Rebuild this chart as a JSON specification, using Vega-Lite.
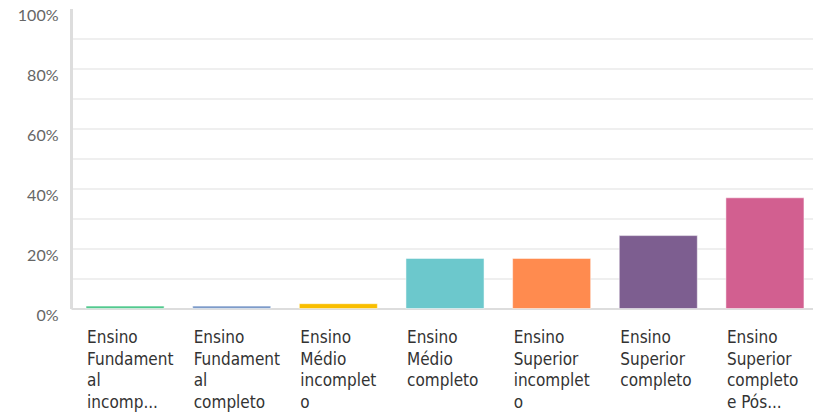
{
  "$schema": "https://vega.github.io/schema/vega-lite/v6.json",
  "width": 748,
  "height": 300,
  "autosize": {"type": "none"},
  "padding": {"left": 71, "top": 8.5, "right": 0, "bottom": 103.5},
  "background": "white",
  "data": {
    "values": [
      {"label": "Ensino|Fundament|al|incomp...", "pct": 0.008, "color": "#52C98E"},
      {"label": "Ensino|Fundament|al|completo", "pct": 0.008, "color": "#7D9BC9"},
      {"label": "Ensino|Médio|incomplet|o", "pct": 0.016, "color": "#F9BE00"},
      {"label": "Ensino|Médio|completo", "pct": 0.167, "color": "#6CC8CC"},
      {"label": "Ensino|Superior|incomplet|o", "pct": 0.167, "color": "#FF8B4F"},
      {"label": "Ensino|Superior|completo", "pct": 0.243, "color": "#7D5E90"},
      {"label": "Ensino|Superior|completo|e Pós...", "pct": 0.369, "color": "#D25F90"}
    ]
  },
  "config": {
    "view": {"stroke": null},
    "axis": {"ticks": false}
  },
  "mark": {"type": "bar", "stroke": "white", "strokeOpacity": 0.5, "strokeWidth": 1},
  "encoding": {
    "x": {
      "field": "label",
      "type": "nominal",
      "sort": null,
      "scale": {"paddingInner": 0.268, "paddingOuter": 0.141},
      "axis": {
        "title": null,
        "labelAngle": 0,
        "labelAlign": "left",
        "labelBaseline": "top",
        "labelOffset": -38,
        "labelExpr": "split(datum.value, '|')",
        "labelFont": "DejaVu Sans Condensed",
        "labelFontSize": 17,
        "labelLineHeight": 21.5,
        "labelColor": "#333333",
        "labelPadding": 21,
        "labelLimit": 200,
        "domainColor": "#dddddd",
        "domainWidth": 2,
        "grid": false
      }
    },
    "y": {
      "field": "pct",
      "type": "quantitative",
      "scale": {"domain": [0, 1], "nice": false},
      "axis": {
        "title": null,
        "values": [0, 0.1, 0.2, 0.3, 0.4, 0.5, 0.6, 0.7, 0.8, 0.9, 1],
        "labelExpr": "round(datum.value * 10) % 2 == 0 ? format(datum.value, '.0%') : ''",
        "labelFont": "Lato",
        "labelFontSize": 16,
        "labelColor": "#666666",
        "labelPadding": 13,
        "labelOffset": 7,
        "labelBaseline": "middle",
        "domainColor": "#dddddd",
        "domainWidth": 3,
        "grid": true,
        "gridColor": {"condition": {"test": "datum.value >= 1 || datum.value <= 0", "value": "rgba(0,0,0,0)"}, "value": "#efefef"},
        "gridWidth": 2
      }
    },
    "color": {"field": "color", "type": "nominal", "scale": null, "legend": null}
  }
}
